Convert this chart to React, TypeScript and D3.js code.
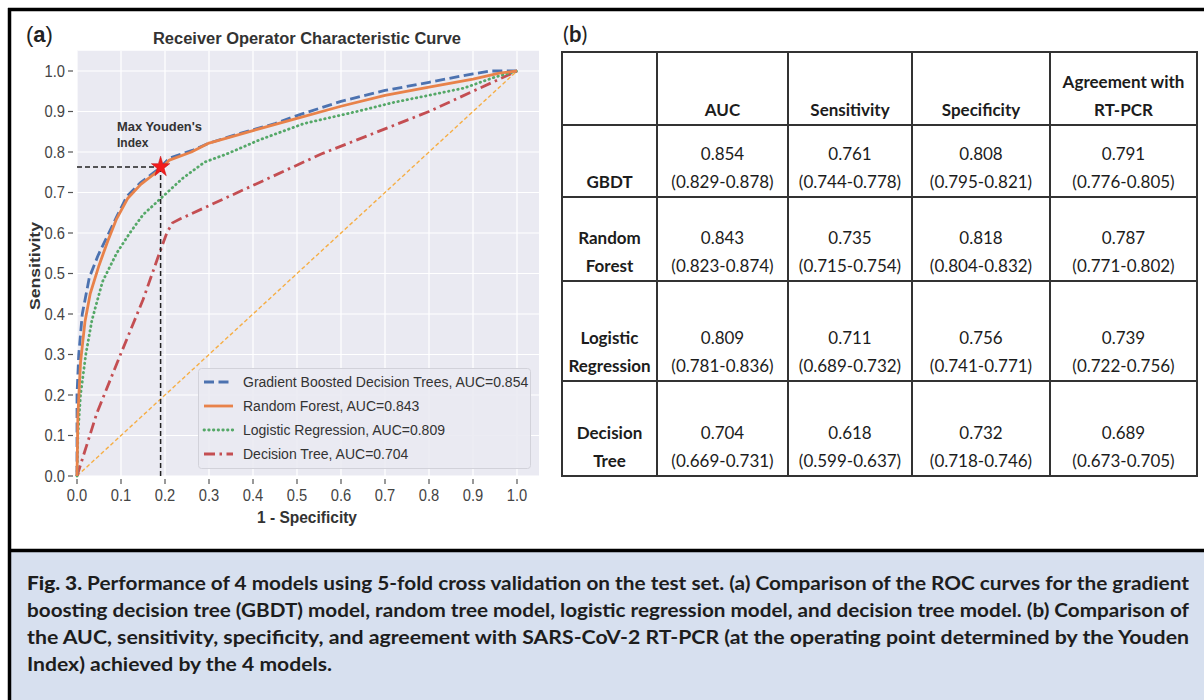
import React from 'react';
import * as d3 from 'd3';

// ---------- Data ----------
const xTicks = [0, 0.1, 0.2, 0.3, 0.4, 0.5, 0.6, 0.7, 0.8, 0.9, 1.0];
const yTicks = [0, 0.1, 0.2, 0.3, 0.4, 0.5, 0.6, 0.7, 0.8, 0.9, 1.0];

const gbdtFpr = [0, 0, 0.004, 0.012, 0.028, 0.048, 0.068, 0.09, 0.113, 0.143, 0.19, 0.21, 0.264, 0.3, 0.377, 0.45, 0.5, 0.6, 0.7, 0.8, 0.9, 0.94, 1];
const gbdtTpr = [0, 0.2, 0.3, 0.4, 0.49, 0.545, 0.59, 0.64, 0.69, 0.723, 0.762, 0.785, 0.805, 0.822, 0.848, 0.87, 0.89, 0.925, 0.952, 0.972, 0.993, 1.0, 1.0];

const rfFpr = [0, 0.002, 0.008, 0.018, 0.03, 0.05, 0.07, 0.09, 0.115, 0.145, 0.19, 0.21, 0.26, 0.3, 0.4, 0.5, 0.6, 0.7, 0.8, 0.9, 0.96, 1];
const rfTpr = [0, 0.15, 0.28, 0.38, 0.45, 0.52, 0.58, 0.635, 0.685, 0.72, 0.758, 0.78, 0.8, 0.822, 0.853, 0.883, 0.913, 0.94, 0.96, 0.98, 0.995, 1];

const lrFpr = [0, 0.002, 0.008, 0.02, 0.034, 0.058, 0.09, 0.12, 0.15, 0.19, 0.24, 0.29, 0.34, 0.415, 0.515, 0.636, 0.718, 0.8, 0.88, 0.95, 1];
const lrTpr = [0, 0.1, 0.2, 0.3, 0.385, 0.48, 0.55, 0.6, 0.645, 0.685, 0.735, 0.775, 0.795, 0.83, 0.87, 0.9, 0.922, 0.94, 0.958, 0.985, 1];

const dtFpr = [0, 0.045, 0.097, 0.15, 0.184, 0.204, 0.217, 0.235, 0.555, 0.8, 1];
const dtTpr = [0, 0.155, 0.295, 0.435, 0.54, 0.6, 0.625, 0.635, 0.795, 0.9, 1];

const youdenPoint = [0.19, 0.763];

const legendLabels = [
  'Gradient Boosted Decision Trees, AUC=0.854',
  'Random Forest, AUC=0.843',
  'Logistic Regression, AUC=0.809',
  'Decision Tree, AUC=0.704',
];

const tableHeaders = [[''], ['AUC'], ['Sensitivity'], ['Specificity'], ['Agreement with', 'RT-PCR']];
const modelNames = [['GBDT'], ['Random', 'Forest'], ['Logistic', 'Regression'], ['Decision', 'Tree']];
const aucVal = [0.854, 0.843, 0.809, 0.704];
const aucLo = [0.829, 0.823, 0.781, 0.669];
const aucHi = [0.878, 0.874, 0.836, 0.731];
const sensVal = [0.761, 0.735, 0.711, 0.618];
const sensLo = [0.744, 0.715, 0.689, 0.599];
const sensHi = [0.778, 0.754, 0.732, 0.637];
const specVal = [0.808, 0.818, 0.756, 0.732];
const specLo = [0.795, 0.804, 0.741, 0.718];
const specHi = [0.821, 0.832, 0.771, 0.746];
const agreeVal = [0.791, 0.787, 0.739, 0.689];
const agreeLo = [0.776, 0.771, 0.722, 0.673];
const agreeHi = [0.805, 0.802, 0.756, 0.705];

const captionLines = [
  'Performance of 4 models using 5-fold cross validation on the test set. (a) Comparison of the ROC curves for the gradient',
  'boosting decision tree (GBDT) model, random tree model, logistic regression model, and decision tree model. (b) Comparison of',
  'the AUC, sensitivity, specificity, and agreement with SARS-CoV-2 RT-PCR (at the operating point determined by the Youden',
  'Index) achieved by the 4 models.',
];

// ---------- Component ----------
const SANS = '"Liberation Sans", Arial, sans-serif';
const TABLE_FONT = 'Lato, "Noto Sans", sans-serif';

export default function App() {
  const x = d3.scaleLinear().domain([0, 1.05]).range([77, 77 + 1.05 * 440]);
  const y = d3.scaleLinear().domain([0, 1.05]).range([476, 476 - 1.05 * 405]);
  const fmt = d3.format('.3f');
  const fmt1 = d3.format('.1f');
  const line = d3.line<[number, number]>().x(d => x(d[0])).y(d => y(d[1]));

  const series = [
    { fpr: gbdtFpr, tpr: gbdtTpr, color: '#4C72B0', dash: '10,4.5', cap: 'butt', w: 2.8 },
    { fpr: rfFpr, tpr: rfTpr, color: '#E8824A', dash: null, cap: 'butt', w: 2.8 },
    { fpr: lrFpr, tpr: lrTpr, color: '#55A868', dash: '0.5,4.2', cap: 'round', w: 2.8 },
    { fpr: dtFpr, tpr: dtTpr, color: '#C44E52', dash: '11,4.5,2.5,4.5', cap: 'butt', w: 2.8 },
  ];
  const drawOrder = [3, 2, 0, 1];

  const starPath = d3.symbol().type(d3.symbolStar).size(105)() as string;

  const colEdges = [562, 657, 788, 912, 1050, 1197];
  const rowEdges = [52, 125, 197, 281, 381, 476];
  const lineGap = 28.5;

  const metricCols = [
    [aucVal, aucLo, aucHi],
    [sensVal, sensLo, sensHi],
    [specVal, specLo, specHi],
    [agreeVal, agreeLo, agreeHi],
  ];

  const cellText = (lines: string[], ci: number, ri: number, bold: boolean, key: string) => {
    const cx = (colEdges[ci] + colEdges[ci + 1]) / 2;
    const base = rowEdges[ri + 1] - 9;
    return lines.map((t, k) => (
      <text
        key={key + k}
        x={cx}
        y={base - (lines.length - 1 - k) * lineGap}
        textAnchor="middle"
        fontFamily={TABLE_FONT}
        fontSize={17}
        fontWeight={bold ? 700 : 400}
        fill="#1c1c1c"
      >
        {t}
      </text>
    ));
  };

  const legendY = [382, 406, 430, 454];

  return (
    <svg
      width={1204}
      height={700}
      style={{ position: 'absolute', left: 0, top: 0, background: '#fff' }}
    >
      {/* frame */}
      <rect x={0} y={0} width={1204} height={700} fill="#fff" />
      <rect x={10} y={551} width={1194} height={149} fill="#D7E0EF" />
      <line x1={8} x2={1204} y1={9.5} y2={9.5} stroke="#000" strokeWidth={3.5} />
      <line x1={8} x2={1204} y1={550.5} y2={550.5} stroke="#000" strokeWidth={3.5} />
      <line x1={9.5} x2={9.5} y1={8} y2={700} stroke="#000" strokeWidth={3.5} />

      {/* ---------- Panel (a) ---------- */}
      <text x={26} y={42} fontFamily={SANS} fontSize={22} fill="#222">(<tspan fontWeight={700}>a</tspan>)</text>
      <text x={307} y={44} textAnchor="middle" fontFamily={SANS} fontSize={16} fontWeight={700} fill="#333"
        textLength={308} lengthAdjust="spacingAndGlyphs">Receiver Operator Characteristic Curve</text>

      <rect x={x(0)} y={y(1.05)} width={x(1.05) - x(0)} height={y(0) - y(1.05)} fill="#EAEAF2" />
      {xTicks.map(t => (
        <line key={'gx' + t} x1={x(t)} x2={x(t)} y1={y(0)} y2={y(1.05)} stroke="#fff" strokeWidth={1.2} />
      ))}
      {yTicks.map(t => (
        <line key={'gy' + t} x1={x(0)} x2={x(1.05)} y1={y(t)} y2={y(t)} stroke="#fff" strokeWidth={1.2} />
      ))}

      {/* ticks */}
      {xTicks.map(t => (
        <g key={'tx' + t}>
          <line x1={x(t)} x2={x(t)} y1={479} y2={484} stroke="#555" strokeWidth={1.2} />
          <text transform={`translate(${x(t)},501) scale(0.92,1)`} textAnchor="middle" fontFamily={SANS} fontSize={16} fill="#444">{fmt1(t)}</text>
        </g>
      ))}
      {yTicks.map(t => (
        <g key={'ty' + t}>
          <line x1={68} x2={73} y1={y(t)} y2={y(t)} stroke="#555" strokeWidth={1.2} />
          <text transform={`translate(65,${y(t)}) scale(0.92,1)`} dy="0.36em" textAnchor="end" fontFamily={SANS} fontSize={16} fill="#444">{fmt1(t)}</text>
        </g>
      ))}

      <text x={307} y={523} textAnchor="middle" fontFamily={SANS} fontSize={16} fontWeight={700} fill="#333"
        textLength={100} lengthAdjust="spacingAndGlyphs">1 - Specificity</text>
      <text transform={`translate(40,266) rotate(-90)`} textAnchor="middle" fontFamily={SANS} fontSize={15}
        fontWeight={700} fill="#333" textLength={88} lengthAdjust="spacingAndGlyphs">Sensitivity</text>

      {/* diagonal */}
      <path d={line([[0, 0], [1, 1]]) as string} fill="none" stroke="#F6AE45" strokeWidth={1.4} strokeDasharray="4,2.5" />

      {drawOrder.map(i => {
        const s = series[i];
        const pts = s.fpr.map((f, k) => [f, s.tpr[k]] as [number, number]);
        return (
          <path key={'s' + i} d={line(pts) as string} fill="none" stroke={s.color} strokeWidth={s.w}
            strokeDasharray={s.dash || undefined} strokeLinecap={s.cap as any} strokeLinejoin="round" />
        );
      })}

      {/* Youden */}
      <line x1={x(0)} x2={x(youdenPoint[0])} y1={y(youdenPoint[1])} y2={y(youdenPoint[1])} stroke="#222" strokeWidth={1.5} strokeDasharray="5,3" />
      <line x1={x(youdenPoint[0])} x2={x(youdenPoint[0])} y1={y(0)} y2={y(youdenPoint[1])} stroke="#222" strokeWidth={1.5} strokeDasharray="5,3" />
      <path d={starPath} transform={`translate(${x(youdenPoint[0])},${y(youdenPoint[1])}) scale(1,1.12)`} fill="#F21C1C" stroke="#c01010" strokeWidth={0.5} />
      <text x={117} y={131} fontFamily={SANS} fontSize={12} fontWeight={700} fill="#333" textLength={85} lengthAdjust="spacingAndGlyphs">Max Youden's</text>
      <text x={117} y={147} fontFamily={SANS} fontSize={12} fontWeight={700} fill="#333">Index</text>

      {/* legend */}
      <rect x={198.5} y={368.5} width={332} height={100} rx={3} fill="#EAEAF2" fillOpacity={0.9} stroke="#d2d2da" strokeWidth={1} />
      {series.map((s, i) => (
        <g key={'lg' + i}>
          <line x1={204} x2={233} y1={legendY[i]} y2={legendY[i]} stroke={s.color} strokeWidth={s.w}
            strokeDasharray={s.dash || undefined} strokeLinecap={s.cap as any} />
          <text x={243} y={legendY[i]} dy="0.36em" fontFamily={SANS} fontSize={14} fill="#333">{legendLabels[i]}</text>
        </g>
      ))}

      {/* ---------- Panel (b) ---------- */}
      <text x={563} y={42} fontFamily={TABLE_FONT} fontSize={22} fill="#222">(<tspan fontWeight={700}>b</tspan>)</text>
      {colEdges.map((cx, i) => (
        <line key={'cl' + i} x1={cx} x2={cx} y1={rowEdges[0]} y2={rowEdges[rowEdges.length - 1]} stroke="#333" strokeWidth={2} />
      ))}
      {rowEdges.map((ry, i) => (
        <line key={'rl' + i} x1={colEdges[0] - 1} x2={colEdges[colEdges.length - 1] + 1} y1={ry} y2={ry} stroke="#333" strokeWidth={2} />
      ))}
      {tableHeaders.map((h, ci) => cellText(h, ci, 0, true, 'h' + ci))}
      {modelNames.map((m, ri) => (
        <g key={'row' + ri}>
          {cellText(m, 0, ri + 1, true, 'm' + ri)}
          {metricCols.map((mc, ci) =>
            cellText([fmt(mc[0][ri]), `(${fmt(mc[1][ri])}-${fmt(mc[2][ri])})`], ci + 1, ri + 1, false, `v${ri}-${ci}`)
          )}
        </g>
      ))}

      {/* ---------- Caption ---------- */}
      {captionLines.map((t, i) => (
        <text key={'cap' + i} x={27} y={590 + i * 27} fontFamily={TABLE_FONT} fontSize={18} fontWeight={700} fill="#1d1d1d"
          textLength={i < 3 ? 1162 : 305} lengthAdjust="spacingAndGlyphs">
          {i === 0 ? <tspan fontWeight={900}>Fig. 3. </tspan> : null}
          {t}
        </text>
      ))}
    </svg>
  );
}
